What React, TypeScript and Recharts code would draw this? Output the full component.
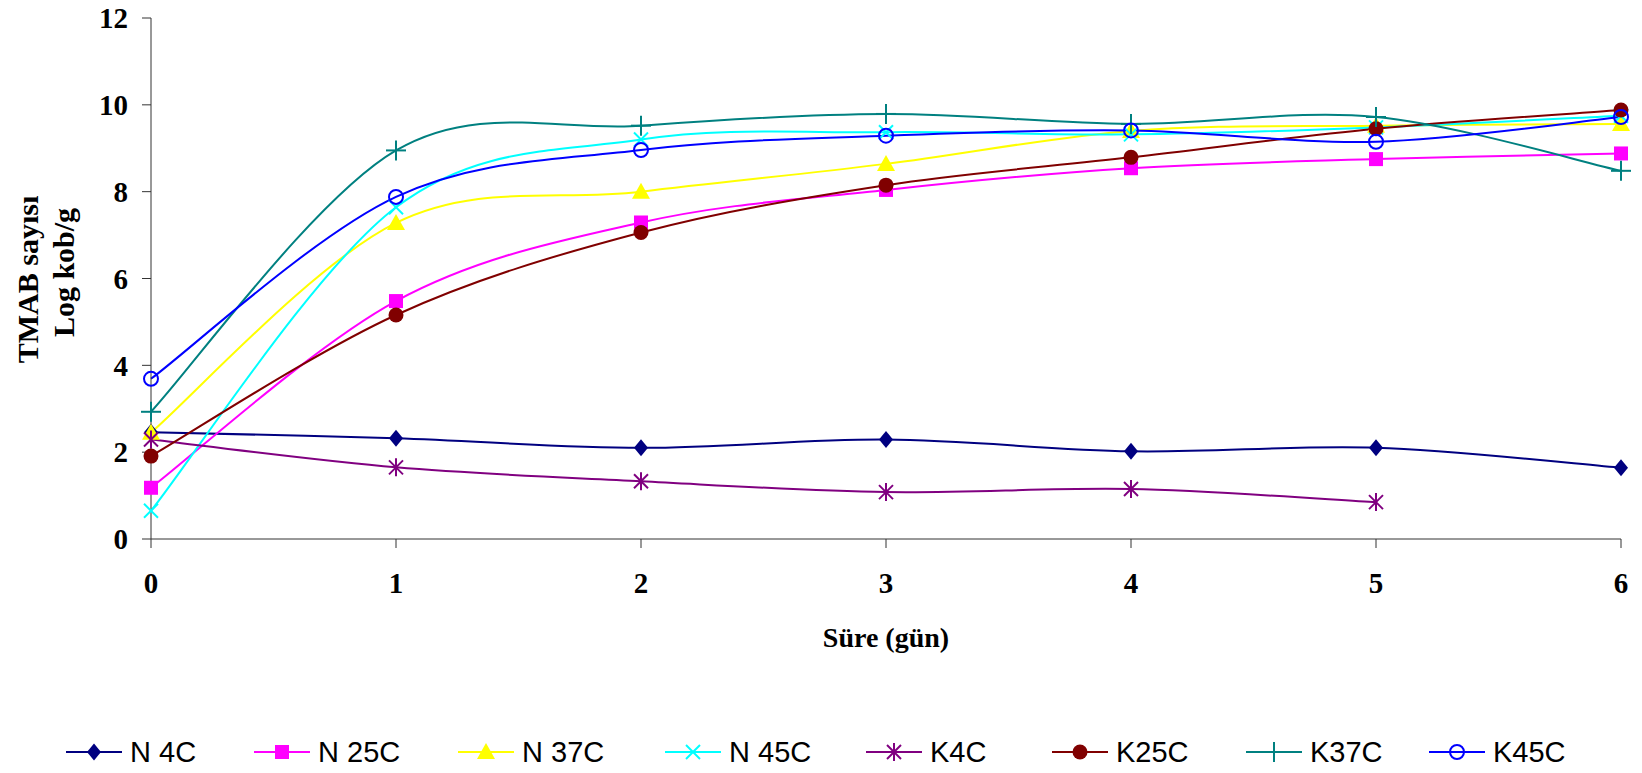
import React from "react"
import { LineChart, Line, XAxis, YAxis } from "recharts"

// gün (days) and TMAB counts, Log kob/g
const days = [0, 1, 2, 3, 4, 5, 6]
const n4c = [2.46, 2.32, 2.1, 2.29, 2.02, 2.1, 1.64]
const n25c = [1.18, 5.48, 7.29, 8.04, 8.54, 8.75, 8.88]
const n37c = [2.45, 7.28, 8.0, 8.64, 9.4, 9.52, 9.56]
const n45c = [0.65, 7.64, 9.2, 9.37, 9.32, 9.48, 9.75]
const k4c = [2.29, 1.65, 1.33, 1.08, 1.15, 0.85, null]
const k25c = [1.91, 5.16, 7.06, 8.15, 8.79, 9.45, 9.88]
const k37c = [2.93, 8.95, 9.52, 9.79, 9.56, 9.72, 8.48]
const k45c = [3.69, 7.88, 8.96, 9.29, 9.41, 9.15, 9.72]
const yTicks = [0, 2, 4, 6, 8, 10, 12]

const series = [
  { key: "n4c", name: "N 4C", values: n4c, color: "#000080", shape: "diamond" },
  { key: "n25c", name: "N 25C", values: n25c, color: "#FF00FF", shape: "square" },
  { key: "n37c", name: "N 37C", values: n37c, color: "#FFFF00", shape: "triangle" },
  { key: "n45c", name: "N 45C", values: n45c, color: "#00FFFF", shape: "cross" },
  { key: "k4c", name: "K4C", values: k4c, color: "#800080", shape: "star" },
  { key: "k25c", name: "K25C", values: k25c, color: "#800000", shape: "dot" },
  { key: "k37c", name: "K37C", values: k37c, color: "#008080", shape: "plus" },
  { key: "k45c", name: "K45C", values: k45c, color: "#0000FF", shape: "ring" },
]

// left edge of each legend entry
const legendX = [66, 254, 458, 665, 866, 1052, 1246, 1429]

const data = days.map((d, i) => {
  const row: any = { day: d }
  series.forEach((s) => (row[s.key] = s.values[i]))
  return row
})

// excel-like smoothing (catmull-rom as cubic bezier)
function excelCurve(context: any) {
  let pts: number[][] = []
  return {
    areaStart() {},
    areaEnd() {},
    lineStart() {
      pts = []
    },
    lineEnd() {
      if (!pts.length) return
      context.moveTo(pts[0][0], pts[0][1])
      for (let i = 0; i < pts.length - 1; i++) {
        const p0 = pts[i - 1] || pts[i]
        const p1 = pts[i]
        const p2 = pts[i + 1]
        const p3 = pts[i + 2] || p2
        context.bezierCurveTo(
          p1[0] + (p2[0] - p0[0]) / 6,
          p1[1] + (p2[1] - p0[1]) / 6,
          p2[0] - (p3[0] - p1[0]) / 6,
          p2[1] - (p3[1] - p1[1]) / 6,
          p2[0],
          p2[1]
        )
      }
    },
    point(x: number, y: number) {
      pts.push([+x, +y])
    },
  }
}

function Marker({ shape, cx, cy, color }: any) {
  switch (shape) {
    case "diamond":
      return <polygon points={`${cx},${cy - 8.5} ${cx + 7},${cy} ${cx},${cy + 8.5} ${cx - 7},${cy}`} fill={color} />
    case "square":
      return <rect x={cx - 7} y={cy - 7} width={14} height={14} fill={color} />
    case "triangle":
      return <polygon points={`${cx},${cy - 9} ${cx + 9},${cy + 7} ${cx - 9},${cy + 7}`} fill={color} />
    case "cross":
      return (
        <g stroke={color} strokeWidth={2}>
          <line x1={cx - 7} y1={cy - 7} x2={cx + 7} y2={cy + 7} />
          <line x1={cx - 7} y1={cy + 7} x2={cx + 7} y2={cy - 7} />
        </g>
      )
    case "star":
      return (
        <g stroke={color} strokeWidth={2}>
          <line x1={cx - 7} y1={cy - 7} x2={cx + 7} y2={cy + 7} />
          <line x1={cx - 7} y1={cy + 7} x2={cx + 7} y2={cy - 7} />
          <line x1={cx} y1={cy - 9} x2={cx} y2={cy + 9} />
        </g>
      )
    case "dot":
      return <circle cx={cx} cy={cy} r={7.5} fill={color} />
    case "plus":
      return (
        <g stroke={color} strokeWidth={2}>
          <line x1={cx - 10} y1={cy} x2={cx + 10} y2={cy} />
          <line x1={cx} y1={cy - 10} x2={cx} y2={cy + 10} />
        </g>
      )
    default:
      return <circle cx={cx} cy={cy} r={7} fill="none" stroke={color} strokeWidth={2} />
  }
}

const serif = "'Liberation Serif', 'Times New Roman', serif"
const tickFont = { fontFamily: serif, fontWeight: "bold", fontSize: 29, fill: "#000" }

function YTitle({ viewBox }: any) {
  const cy = viewBox.y + viewBox.height / 2
  return (
    <g fontFamily={serif} fontWeight="bold" fontSize={30} fill="#000">
      <text x={27} y={cy + 1} transform={`rotate(-90, 27, ${cy + 1})`} textAnchor="middle" dominantBaseline="central">
        TMAB sayısı
      </text>
      <text x={63} y={cy - 6} transform={`rotate(-90, 63, ${cy - 6})`} textAnchor="middle" dominantBaseline="central">
        Log kob/g
      </text>
    </g>
  )
}

function ChartLegend() {
  return (
    <div
      style={{
        position: "absolute",
        left: 0,
        top: 734,
        width: 1642,
        height: 36,
        fontFamily: "'Liberation Sans', Arial, sans-serif",
        fontSize: 29,
        color: "#000",
        whiteSpace: "nowrap",
      }}
    >
      {series.map((s, i) => (
        <div key={s.key} style={{ position: "absolute", left: legendX[i], top: 0, height: 36, display: "flex", alignItems: "center" }}>
          <svg width={56} height={30}>
            <line x1={0} y1={15} x2={56} y2={15} stroke={s.color} strokeWidth={2} />
            <Marker shape={s.shape} cx={28} cy={15} color={s.color} />
          </svg>
          <span style={{ marginLeft: 8 }}>{s.name}</span>
        </div>
      ))}
    </div>
  )
}

export default function App() {
  return (
    <div style={{ position: "absolute", left: 0, top: 0, width: 1642, height: 773, background: "#fff" }}>
      <LineChart width={1642} height={773} data={data} margin={{ top: 18, right: 21, bottom: 174, left: 0 }}>
        <XAxis
          dataKey="day"
          type="number"
          domain={[0, 6]}
          ticks={days}
          height={60}
          tickSize={9}
          tickMargin={24}
          stroke="#333"
          tick={tickFont}
          label={{ value: "Süre (gün)", position: "insideBottom", offset: -48, style: { ...tickFont, fontSize: 28 } }}
        />
        <YAxis
          type="number"
          domain={[0, 12]}
          ticks={yTicks}
          width={151}
          tickSize={9}
          tickMargin={14}
          stroke="#333"
          tick={tickFont}
          label={{ content: (p: any) => <YTitle {...p} /> }}
        />
        {series.map((s) => (
          <Line
            key={s.key}
            dataKey={s.key}
            name={s.name}
            type={excelCurve as any}
            stroke={s.color}
            strokeWidth={2}
            isAnimationActive={false}
            activeDot={false}
            dot={(p: any) =>
              p.value == null || p.cy == null ? (
                <g key={s.key + p.index} />
              ) : (
                <Marker key={s.key + p.index} shape={s.shape} cx={p.cx} cy={p.cy} color={s.color} />
              )
            }
          />
        ))}
      </LineChart>
      <ChartLegend />
    </div>
  )
}
